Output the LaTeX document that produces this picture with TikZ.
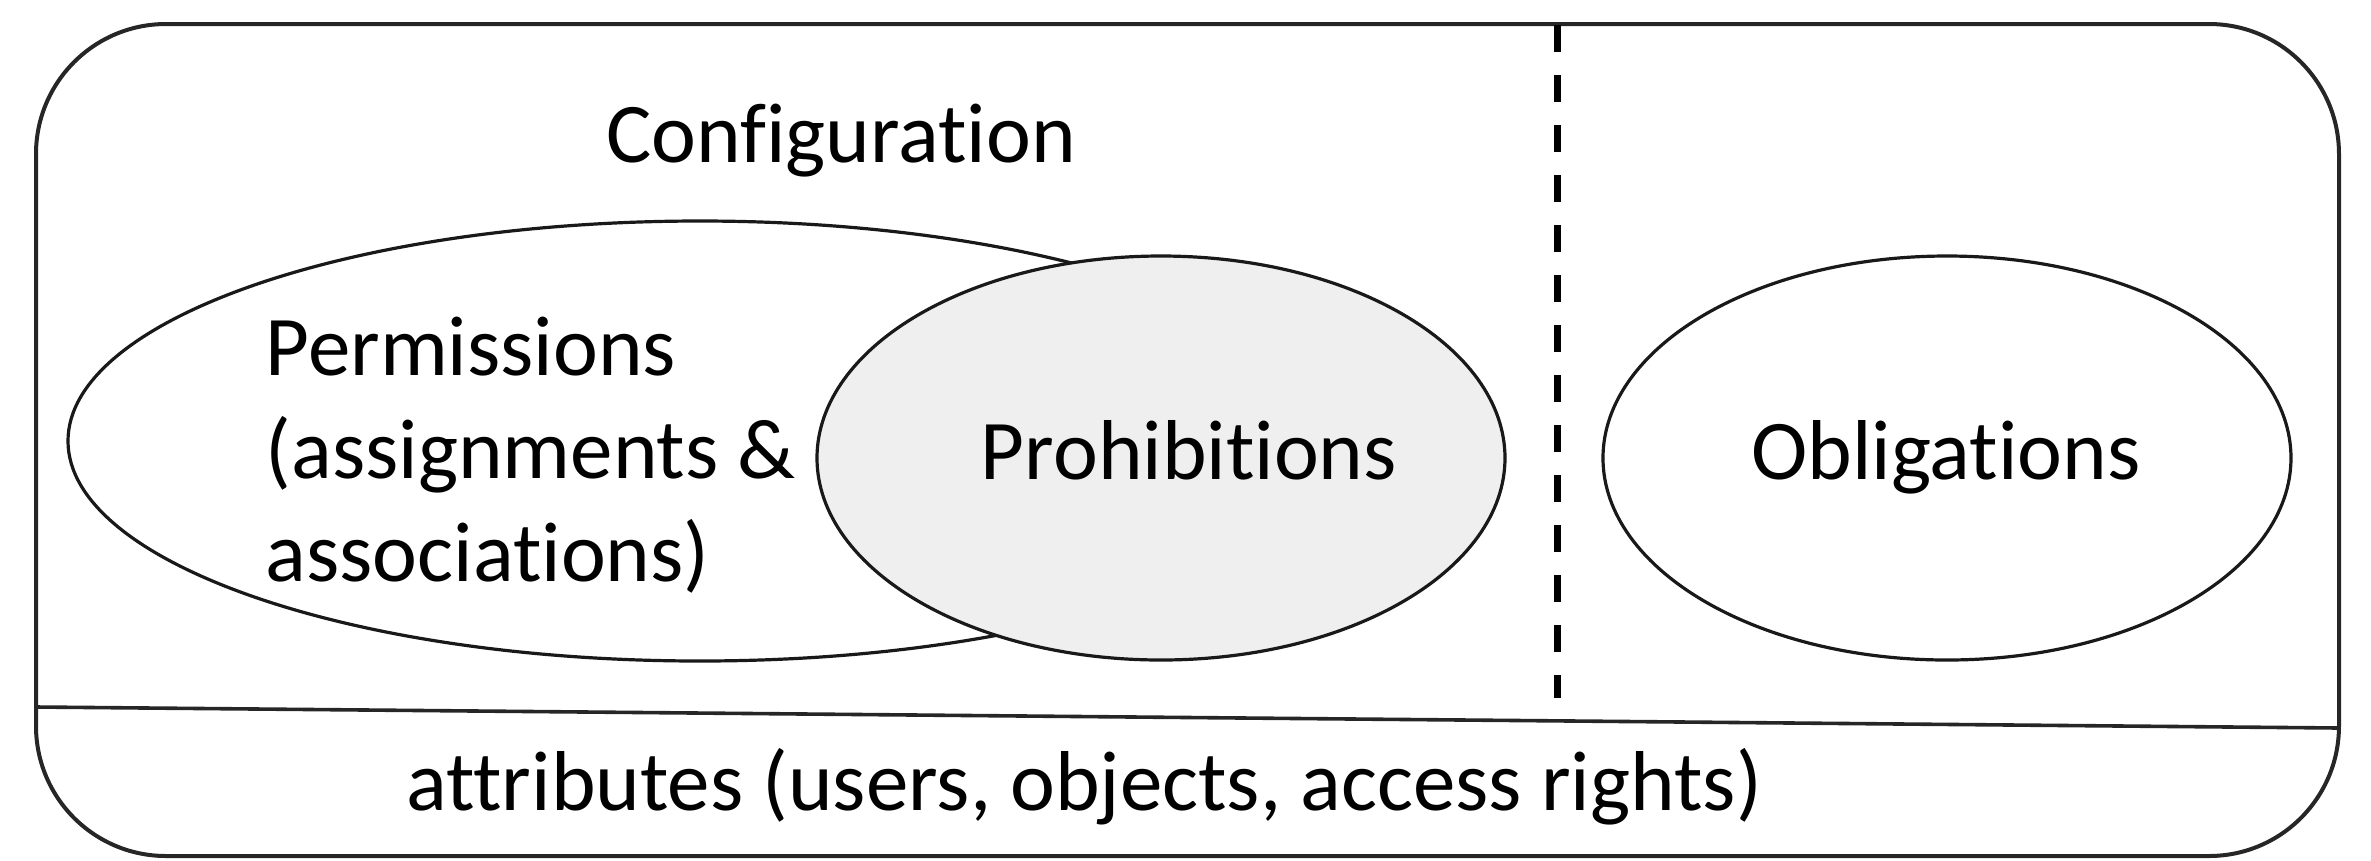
\documentclass[tikz,border=0pt]{standalone}
\usepackage{fontspec}
\setmainfont{Carlito}[Ligatures={NoCommon}]
\usetikzlibrary{shapes.geometric}
\definecolor{prohib}{RGB}{239,239,239}
\tikzset{
  frame/.style={draw=black!85, line width=1pt},
  oval/.style={ellipse, draw=black!90, line width=0.8pt, inner sep=0pt},
  lbl/.style={anchor=base, inner sep=0pt, font=\fontsize{21.25}{25.5}\selectfont},
  divider/.style={draw=black, line width=1.75pt, dash pattern=on 6.75pt off 5.75pt}
}
\begin{document}
\begin{tikzpicture}[x=0.25pt,y=-0.25pt]
\useasboundingbox (0,0) rectangle (2371,860);
% outer frame
\draw[frame, rounded corners=32.5pt] (36,24) rectangle (2339,856);
\coordinate (sepL) at (36,707);
\coordinate (sepR) at (2339,728);
\draw[frame, line width=0.9pt] (sepL) -- (sepR);
% dashed divider
\coordinate (dashT) at (1557,25);
\coordinate (dashB) at (1557,698);
\draw[divider] (dashT) -- (dashB);
% ellipses
\node[oval, minimum width=316pt, minimum height=110pt] (perm) at (700,441) {};
\node[oval, fill=prohib, minimum width=172pt, minimum height=101pt] (prohib) at (1161,458) {};
\node[oval, minimum width=172pt, minimum height=101pt] (oblig) at (1947,458) {};
% labels
\node[lbl] (config) at (841,162) {Configuration};
\node[lbl, anchor=base west] (permtxt) at (265,375) {Permissions};
\node[lbl, anchor=base west] (permtxt2) at (265,478) {(assignments \&};
\node[lbl, anchor=base west] (permtxt3) at (265,581) {associations)};
\node[lbl] (prohibtxt) at (1189,479) {Prohibitions};
\node[lbl] (obligtxt) at (1946,479) {Obligations};
\node[lbl] (attr) at (1084,810) {attributes (users, objects, access rights)};
\end{tikzpicture}
\end{document}
